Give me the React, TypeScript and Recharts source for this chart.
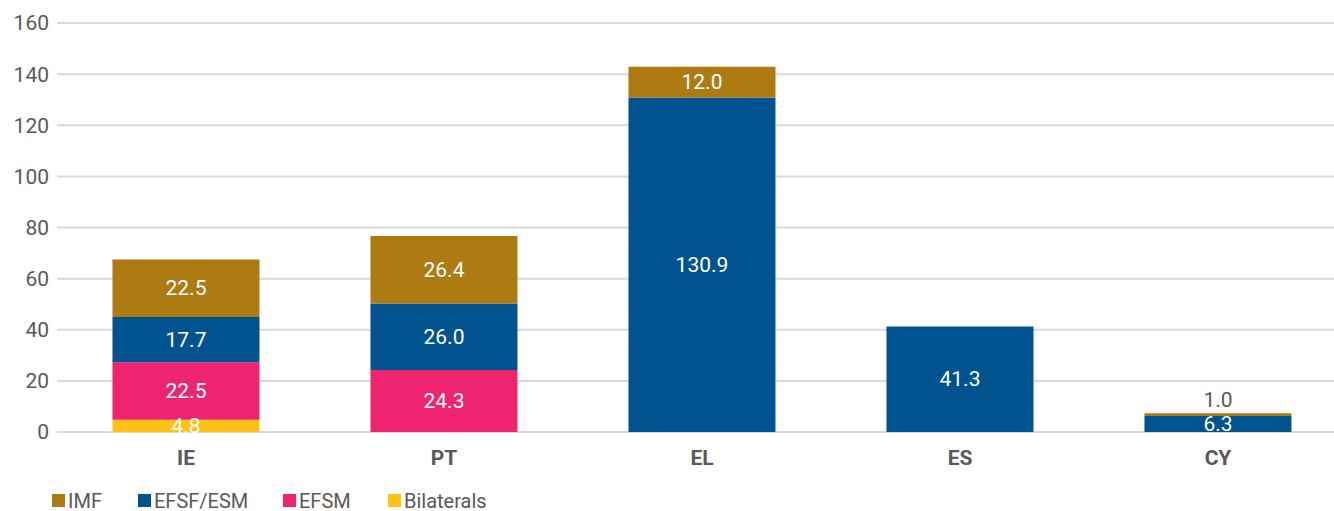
import React from 'react';
import { BarChart, Bar, XAxis, YAxis, CartesianGrid, LabelList } from 'recharts';

const countries = ['IE', 'PT', 'EL', 'ES', 'CY'];
const bilaterals = [4.8, 0, 0, 0, 0];
const efsm = [22.5, 24.3, 0, 0, 0];
const efsfEsm = [17.7, 26.0, 130.9, 41.3, 6.3];
const imf = [22.5, 26.4, 12.0, 0, 1.0];
const yTicks = [0, 20, 40, 60, 80, 100, 120, 140, 160];

const data = countries.map((c, i) => ({
  country: c,
  bilaterals: bilaterals[i] || null,
  efsm: efsm[i] || null,
  efsfEsm: efsfEsm[i] || null,
  imf: imf[i] || null,
}));

const series = [
  { key: 'bilaterals', name: 'Bilaterals', color: '#FDC314' },
  { key: 'efsm', name: 'EFSM', color: '#EE2470' },
  { key: 'efsfEsm', name: 'EFSF/ESM', color: '#00538F' },
  { key: 'imf', name: 'IMF', color: '#AE7A12' },
];

// legend order + item widths (left edge of each marker follows the reference)
const legendOrder = ['imf', 'efsfEsm', 'efsm', 'bilaterals'];
const legendWidths = [86, 145, 105, 160];

const FONT = 'Roboto, "Liberation Sans", Arial, sans-serif';

const SegmentLabel = (props: any) => {
  const { x, y, width, height, value } = props;
  if (value == null || value === 0) return null;
  const small = Math.abs(height) < 8;
  const cx = x + width / 2;
  const cy = small ? y - 13 : y + height / 2;
  return (
    <text
      x={cx}
      y={cy}
      textAnchor="middle"
      dominantBaseline="central"
      fill={small ? '#595959' : '#ffffff'}
      fontSize={21}
      fontFamily={FONT}
    >
      {Number(value).toFixed(1)}
    </text>
  );
};

const App: React.FC = () => {
  return (
    <div style={{ position: 'absolute', left: 0, top: 0, width: 1334, height: 511, overflow: 'hidden', background: '#fff', fontFamily: FONT }}>
      <BarChart
        width={1350}
        height={511}
        data={data}
        margin={{ top: 23, right: 3, left: 0, bottom: 49 }}
        barCategoryGap="21.5%"
      >
        <CartesianGrid vertical={false} stroke="#d9d9d9" strokeWidth={2} />
        <XAxis
          dataKey="country"
          axisLine={false}
          tickLine={false}
          tickMargin={12}
          height={30}
          tick={{ fill: '#595959', fontSize: 21, fontWeight: 700, fontFamily: FONT }}
        />
        <YAxis
          width={57}
          domain={[0, 160]}
          ticks={yTicks}
          axisLine={false}
          tickLine={false}
          tick={{ fill: '#595959', fontSize: 21, fontFamily: FONT }}
        />
        {series.map((s) => (
          <Bar key={s.key} dataKey={s.key} name={s.name} stackId="a" fill={s.color} isAnimationActive={false}>
            <LabelList dataKey={s.key} content={SegmentLabel} />
          </Bar>
        ))}
      </BarChart>
      <div style={{ position: 'absolute', left: 52, top: 490, height: 21, display: 'flex', alignItems: 'center' }}>
        {legendOrder.map((k, i) => {
          const s = series.find((x) => x.key === k)!;
          return (
            <div key={k} style={{ display: 'flex', alignItems: 'center', gap: 3, width: legendWidths[i] }}>
              <span style={{ width: 13, height: 13, background: s.color, display: 'inline-block' }} />
              <span style={{ color: '#595959', fontSize: 20, lineHeight: '20px' }}>{s.name}</span>
            </div>
          );
        })}
      </div>
    </div>
  );
};

export default App;
